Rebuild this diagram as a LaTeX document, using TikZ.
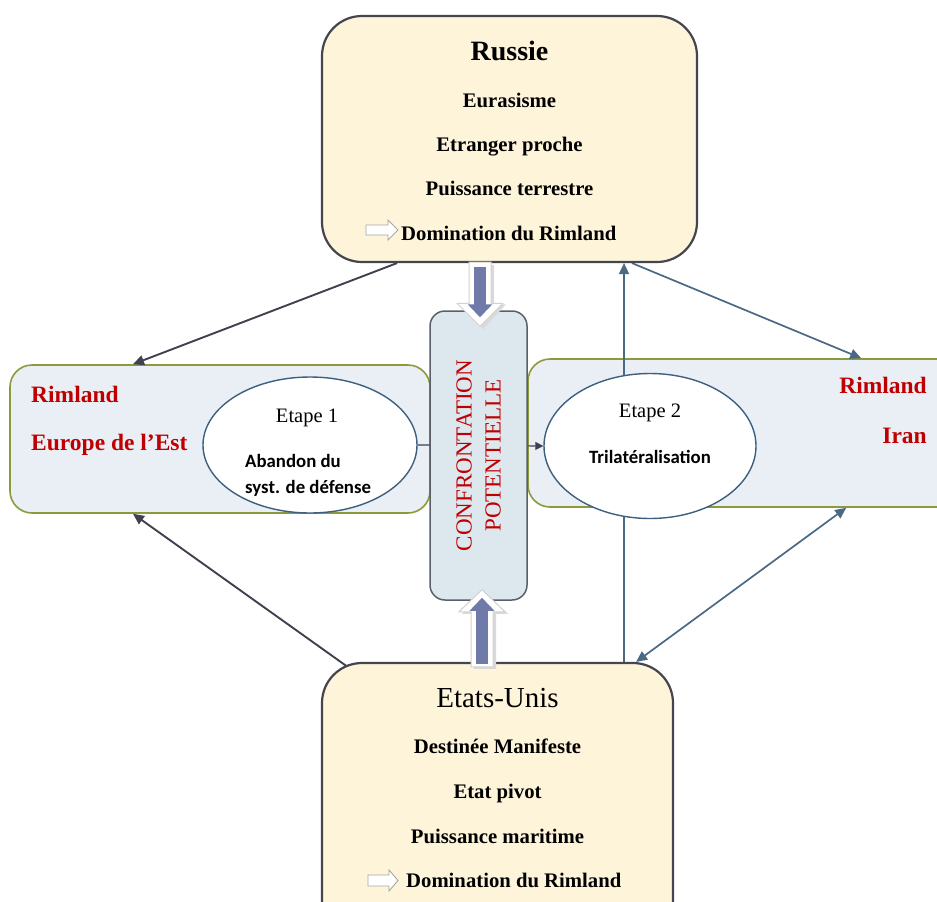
\documentclass[tikz,border=0pt]{standalone}
\usepackage{fontspec}
\setmainfont{Liberation Serif}
\newfontfamily\calfont{Carlito}
\usetikzlibrary{arrows.meta,shapes.geometric,calc}
\definecolor{cream}{HTML}{FDF4DA}
\definecolor{boxline}{HTML}{45454F}
\definecolor{rimfill}{HTML}{E9EFF4}
\definecolor{rimline}{HTML}{8C9A3C}
\definecolor{ellline}{HTML}{3E5F7E}
\definecolor{darkarr}{HTML}{40404E}
\definecolor{bluearr}{HTML}{4A6985}
\definecolor{confill}{HTML}{DCE7EE}
\definecolor{conline}{HTML}{5A606A}
\definecolor{rimred}{HTML}{C00000}
\definecolor{thickblue}{HTML}{6F7AA8}
\pgfdeclarelayer{rimlayer}
\pgfdeclarelayer{connlayer}
\pgfsetlayers{rimlayer,connlayer,main}
\tikzset{
  mainbox/.style={draw=boxline, line width=2.2pt, fill=cream, rounded corners=40pt, inner sep=0pt},
  rimbox/.style={draw=rimline, line width=1.6pt, fill=rimfill, rounded corners=22pt, inner sep=0pt},
  etape/.style={ellipse, draw=ellline, line width=1.4pt, fill=white, inner sep=0pt},
  confbox/.style={draw=conline, line width=1.5pt, fill=confill, rounded corners=15pt, inner sep=0pt},
  darkconn/.style={draw=darkarr, line width=1.9pt, -{Triangle[length=11pt,width=10pt]}},
  blueconn/.style={draw=bluearr, line width=1.7pt, -{Triangle[length=11pt,width=10pt]}},
  bluedouble/.style={draw=bluearr, line width=1.7pt, {Triangle[length=11pt,width=10pt]}-{Triangle[length=11pt,width=10pt]}},
  smallconn/.style={draw=darkarr, line width=1.2pt, -{Triangle[length=8pt,width=8pt]}},
  title/.style={anchor=base, inner sep=0pt},
  body/.style={anchor=base, inner sep=0pt, font=\fontsize{20.7}{24}\selectfont\bfseries},
  redtxt/.style={inner sep=0pt, text=rimred, font=\fontsize{23.5}{26}\selectfont\bfseries},
  etapetitle/.style={anchor=base, inner sep=0pt, font=\fontsize{20.5}{22}\selectfont},
  calib/.style={inner sep=0pt, font=\calfont\fontsize{18.8}{20}\selectfont\bfseries},
  icon/.style={draw=gray!70, line width=0.9pt, fill=white},
  bigout/.style={draw=gray!35, line width=1pt, fill=white},
  bigshadow/.style={fill=gray!30, draw=none},
  bigin/.style={draw=thickblue, line width=12pt, -{Triangle[length=13pt,width=24pt]}},
}
\begin{document}
\begin{tikzpicture}[x=1pt,y=-1pt]
\useasboundingbox (0,0) rectangle (937,902);

% Rimland boxes
\begin{pgfonlayer}{rimlayer}
\node[rimbox, minimum width=420pt, minimum height=148pt] (lrim) at (220,439) {};
\node[rimbox, minimum width=432pt, minimum height=148pt] (rrim) at (744,433) {};
\end{pgfonlayer}

% Main boxes
\node[mainbox, minimum width=375pt, minimum height=246pt] (rus) at (509.5,139) {};
\node[mainbox, minimum width=351pt, minimum height=277pt] (eu) at (497.5,801.5) {};

% Ellipses
\node[etape, minimum width=214pt, minimum height=136pt] (e1) at (310,445) {};
\node[etape, minimum width=212pt, minimum height=145pt] (e2) at (650,446) {};

% Connectors
\begin{pgfonlayer}{connlayer}
\draw[darkconn] ([xshift=-112.5pt]rus.south) -- ([xshift=-87pt]lrim.north);
\draw[darkconn] ([xshift=38pt,yshift=-13pt]eu.north west) -- ([xshift=-87pt]lrim.south);
\draw[blueconn] ([xshift=122.5pt]rus.south) -- ([xshift=334pt]rrim.north west);
\draw[blueconn] ([xshift=126.5pt]eu.north) -- ([xshift=114.5pt]rus.south);
\draw[bluedouble] ([xshift=-38pt]eu.north east) -- ([xshift=319pt]rrim.south west);
\draw[smallconn] (e1.east) -- (e2.west);
\end{pgfonlayer}

% Confrontation box
\node[confbox, minimum width=97pt, minimum height=289pt] (conf) at (478.5,455.5) {};
\node[rotate=90, inner sep=0pt, align=center, text=rimred,
      font=\fontsize{23}{29}\selectfont] (conftxt) at (conf.center) {CONFRONTATION\\POTENTIELLE};

% Big arrows
\coordinate (ta) at ($(rus.south)+(-29.5,0)$);
\coordinate (tb) at ($(conf.north)+(1.5,16)$);
\fill[bigshadow] ($(ta)+(-8,2)$) -- ($(ta)+(14,2)$) -- ($(tb)+(14,-22)$) -- ($(tb)+(26,-22)$) -- ($(tb)+(3,3)$) -- ($(tb)+(-20,-22)$) -- ($(tb)+(-8,-22)$) -- cycle;
\draw[bigout] ($(ta)+(-11,-1)$) -- ($(ta)+(11,-1)$) -- ($(tb)+(11,-23)$) -- ($(tb)+(23,-23)$) -- (tb) -- ($(tb)+(-23,-23)$) -- ($(tb)+(-11,-23)$) -- cycle;
\draw[bigin] ($(ta)+(0,4)$) -- ($(tb)+(0,-9)$);

\coordinate (ba) at ($(eu.north)+(-15.5,5)$);
\coordinate (bb) at ($(conf.south)+(3.5,-11)$);
\fill[bigshadow] ($(ba)+(-8,2)$) -- ($(ba)+(14,2)$) -- ($(bb)+(14,24)$) -- ($(bb)+(26,24)$) -- ($(bb)+(3,3)$) -- ($(bb)+(-20,24)$) -- ($(bb)+(-8,24)$) -- cycle;
\draw[bigout] ($(ba)+(-11,0)$) -- ($(ba)+(11,0)$) -- ($(bb)+(11,22)$) -- ($(bb)+(23,22)$) -- (bb) -- ($(bb)+(-23,22)$) -- ($(bb)+(-11,22)$) -- cycle;
\draw[bigin] ($(ba)+(0,-3)$) -- ($(bb)+(0,8)$);

% Russie texts
\node[title, font=\fontsize{28}{30}\selectfont\bfseries] (rust) at (509.5,60) {Russie};
\node[body] (r1) at (509.5,107) {Eurasisme};
\node[body] (r2) at (509.5,151) {Etranger proche};
\node[body] (r3) at (509.5,195) {Puissance terrestre};
\node[body, anchor=base west] (r4) at (401,240) {Domination du Rimland};
\draw[icon] (366,225) -- (388,225) -- (388,220) -- (398,230) -- (388,240) -- (388,235) -- (366,235) -- cycle;

% Etats-Unis texts
\node[title, font=\fontsize{29}{32}\selectfont] (eut) at (497.5,707) {Etats-Unis};
\node[body] (u1) at (497.5,753) {Destinée Manifeste};
\node[body] (u2) at (497.5,798) {Etat pivot};
\node[body] (u3) at (497.5,843) {Puissance maritime};
\node[body, anchor=base west] (u4) at (406,887) {Domination du Rimland};
\draw[icon] (368,875) -- (389,875) -- (389,870) -- (398,880.5) -- (389,891) -- (389,886) -- (368,886) -- cycle;

% Rimland texts
\node[redtxt, anchor=base west] (l1) at (31,402) {Rimland};
\node[redtxt, anchor=base west] (l2) at (31,450) {Europe de l’Est};
\node[redtxt, anchor=base east] (rr1) at (927,393) {Rimland};
\node[redtxt, anchor=base east] (rr2) at (927,443) {Iran};

% Ellipse texts
\node[etapetitle] (e1t) at (307,422) {Etape 1};
\node[calib, anchor=base west] (e1a) at (245,467) {Abandon du};
\node[calib, anchor=base west] (e1b) at (245,493) {syst. de défense};
\node[etapetitle] (e2t) at (650,417) {Etape 2};
\node[calib, anchor=base] (e2a) at (650,463) {Trilatéralisation};
\end{tikzpicture}
\end{document}
